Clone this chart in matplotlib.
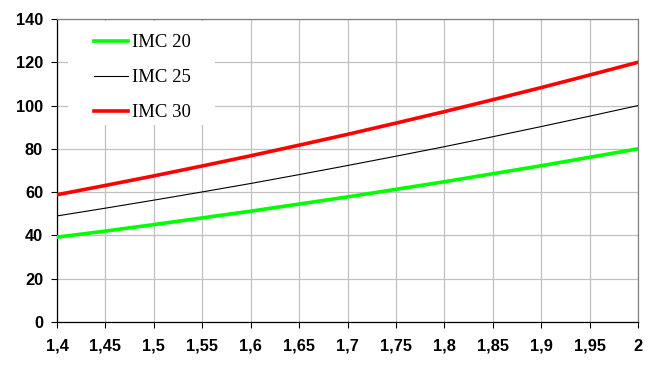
import matplotlib
matplotlib.use("Agg")
import matplotlib.pyplot as plt
from matplotlib.ticker import FixedLocator
from matplotlib.patches import Rectangle

heights = [1.4, 1.45, 1.5, 1.55, 1.6, 1.65, 1.7, 1.75, 1.8, 1.85, 1.9, 1.95, 2.0]
imc20 = [39.2, 42.0, 45.0, 48.1, 51.2, 54.5, 57.8, 61.3, 64.8, 68.5, 72.2, 76.1, 80.0]
imc25 = [49.0, 52.6, 56.3, 60.1, 64.0, 68.1, 72.3, 76.6, 81.0, 85.6, 90.3, 95.1, 100.0]
imc30 = [58.8, 63.1, 67.5, 72.1, 76.8, 81.7, 86.7, 91.9, 97.2, 102.7, 108.3, 114.1, 120.0]
xticklabels = ["1,4", "1,45", "1,5", "1,55", "1,6", "1,65", "1,7", "1,75", "1,8", "1,85", "1,9", "1,95", "2"]
yticks = [0, 20, 40, 60, 80, 100, 120, 140]

fig = plt.figure(figsize=(6.53, 3.68), dpi=100)
ax = fig.add_axes([57/653, 46/368, 581/653, 303/368])

ax.plot(heights, imc20, color="#00ff00", lw=2.6, label="IMC 20", zorder=3)
ax.plot(heights, imc25, color="black", lw=0.8, label="IMC 25", zorder=3)
ax.plot(heights, imc30, color="#ff0000", lw=2.6, label="IMC 30", zorder=3)

ax.set_xlim(1.4, 2.0)
ax.set_ylim(0, 140)
ax.xaxis.set_major_locator(FixedLocator(heights))
ax.set_xticklabels(xticklabels)
ax.set_yticks(yticks)
ax.grid(True, color="#c0c0c0", lw=0.9)
ax.set_axisbelow(True)

# white legend background area
ax.add_patch(Rectangle((11/581, 197/303), 147/581, 104/303, transform=ax.transAxes,
                       facecolor="white", edgecolor="none", zorder=1.5))

for lab in ax.get_xticklabels() + ax.get_yticklabels():
    lab.set_fontfamily("Liberation Sans")
    lab.set_fontweight("bold")
    lab.set_fontsize(11.8)

ax.tick_params(axis="both", direction="out", length=4, width=0.8, color="black")
ax.tick_params(axis="x", pad=8)
ax.tick_params(axis="y", pad=6)
ax.spines["left"].set_color("black")
ax.spines["bottom"].set_color("black")
ax.spines["top"].set_color("#808080")
ax.spines["right"].set_color("#808080")
for s in ax.spines.values():
    s.set_linewidth(0.9)

leg = ax.legend(loc="upper left", bbox_to_anchor=(26/581, 1.0 - 4/303), frameon=False,
                prop={"family": "Liberation Serif", "size": 13.5},
                handlelength=1.8, handletextpad=0.2, labelspacing=0.95,
                borderpad=0.6, borderaxespad=0.0)

fig.savefig("out.png", dpi=100)
